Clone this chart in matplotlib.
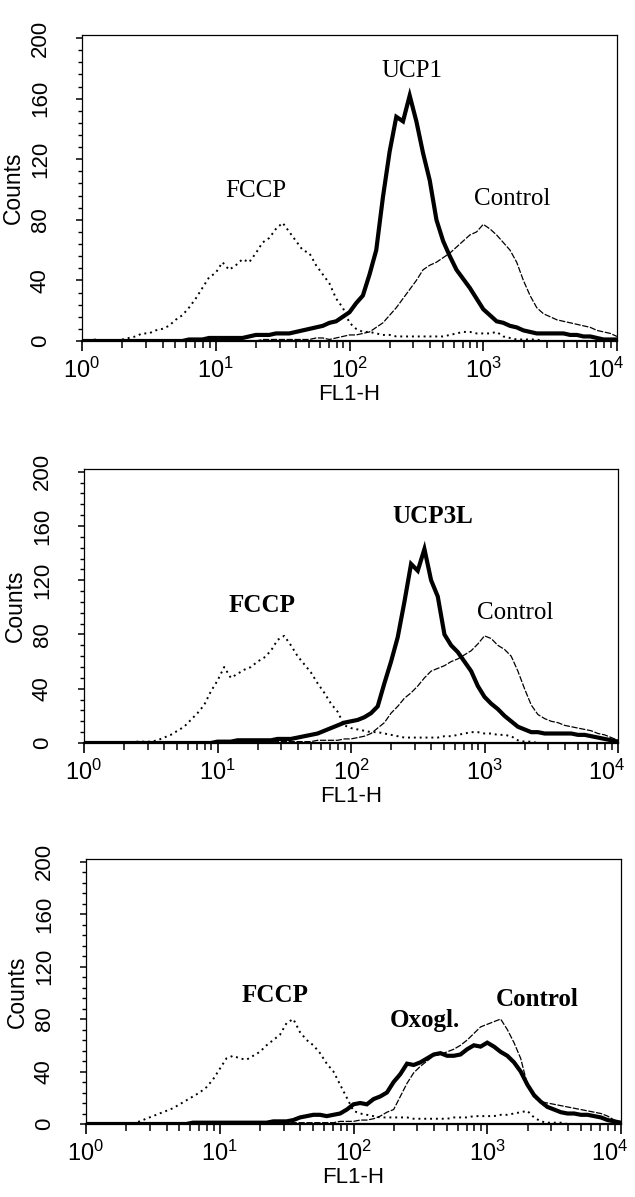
import numpy as np
import matplotlib
matplotlib.use('Agg')
import matplotlib.pyplot as plt
from matplotlib.ticker import LogLocator, LogFormatterSciNotation, MultipleLocator, NullFormatter
from matplotlib.transforms import ScaledTranslation

# -- data: counts per channel, channels at log10(FL1-H) = 0.00, 0.05, ... 4.00 -- #

log_fl1 = np.linspace(0, 4, 81)

# panel 1: UCP1
fccp_1 = [0, 0, 1, 0, 1, 0, 1, 2, 3, 5,
          5, 7, 8, 10, 14, 17, 22, 28, 35, 42,
          45, 52, 47, 50, 54, 52, 58, 65, 68, 74,
          78, 72, 66, 60, 58, 50, 44, 38, 28, 22,
          12, 8, 6, 6, 5, 4, 4, 3, 3, 3,
          3, 3, 3, 3, 3, 4, 5, 6, 6, 5,
          5, 5, 6, 3, 2, 1, 1, 1, 1, 0,
          0, 0, 0, 0, 0, 0, 0, 0, 0, 0,
          0]
control_1 = [0, 0, 0, 0, 0, 0, 0, 0, 0, 0,
             0, 0, 0, 0, 0, 0, 0, 0, 0, 0,
             0, 0, 0, 0, 0, 0, 0, 1, 1, 1,
             1, 1, 1, 1, 1, 2, 2, 1, 2, 3,
             4, 4, 5, 6, 9, 12, 17, 22, 28, 34,
             40, 47, 50, 52, 55, 58, 62, 66, 70, 72,
             77, 74, 70, 65, 60, 52, 40, 30, 22, 18,
             16, 14, 13, 12, 11, 10, 9, 7, 6, 5,
             3]
ucp1_1 = [0, 0, 0, 0, 0, 0, 0, 0, 0, 0,
          0, 0, 0, 0, 0, 0, 1, 1, 1, 2,
          2, 2, 2, 2, 2, 3, 4, 4, 4, 5,
          5, 5, 6, 7, 8, 9, 10, 12, 13, 16,
          19, 25, 30, 44, 60, 95, 125, 148, 145, 162,
          145, 124, 106, 80, 66, 56, 47, 41, 35, 28,
          21, 17, 13, 12, 10, 9, 7, 6, 5, 5,
          5, 5, 5, 4, 4, 3, 3, 2, 1, 1,
          1]

# panel 2: UCP3L
fccp_2 = [0, 0, 0, 0, 0, 0, 0, 0, 1, 1,
          1, 2, 4, 6, 9, 12, 17, 22, 28, 38,
          46, 56, 48, 51, 54, 56, 60, 63, 68, 76,
          79, 72, 64, 58, 52, 44, 37, 29, 23, 13,
          11, 10, 9, 8, 8, 7, 6, 5, 4, 4,
          4, 4, 4, 4, 5, 5, 6, 7, 8, 8,
          7, 7, 6, 6, 5, 2, 1, 1, 0, 0,
          0, 0, 0, 0, 0, 0, 0, 0, 0, 0,
          0]
control_2 = [0, 0, 0, 0, 0, 0, 0, 0, 0, 0,
             0, 0, 0, 0, 0, 0, 0, 0, 0, 0,
             0, 0, 0, 0, 0, 1, 1, 1, 1, 1,
             1, 1, 1, 1, 1, 2, 2, 2, 2, 3,
             3, 4, 5, 7, 11, 15, 22, 27, 33, 37,
             42, 48, 53, 55, 57, 60, 62, 65, 68, 73,
             79, 77, 72, 69, 64, 53, 40, 28, 21, 18,
             16, 15, 13, 12, 11, 10, 9, 7, 6, 4,
             2]
ucp3l_2 = [0, 0, 0, 0, 0, 0, 0, 0, 0, 0,
           0, 0, 0, 0, 0, 0, 0, 0, 0, 0,
           1, 1, 1, 2, 2, 2, 2, 2, 2, 3,
           3, 3, 4, 5, 6, 7, 9, 11, 13, 15,
           16, 17, 19, 22, 27, 44, 60, 78, 104, 132,
           127, 143, 120, 108, 80, 72, 67, 60, 53, 42,
           34, 29, 25, 20, 16, 12, 10, 8, 8, 7,
           7, 7, 7, 7, 6, 6, 5, 4, 3, 2,
           1]

# panel 3: Oxoglutarate
fccp_3 = [0, 0, 0, 0, 0, 0, 0, 0, 2, 4,
          6, 8, 10, 12, 15, 18, 21, 24, 28, 34,
          42, 50, 52, 50, 49, 52, 55, 60, 64, 68,
          77, 80, 70, 64, 60, 54, 46, 40, 30, 20,
          10, 8, 7, 6, 5, 5, 5, 5, 5, 4,
          4, 4, 4, 4, 4, 5, 5, 5, 6, 6,
          6, 6, 7, 7, 8, 9, 10, 5, 2, 1,
          1, 1, 0, 0, 0, 0, 0, 0, 0, 0,
          0]
control_3 = [0, 0, 0, 0, 0, 0, 0, 0, 0, 0,
             0, 0, 0, 0, 0, 0, 0, 0, 0, 0,
             0, 0, 0, 0, 0, 0, 0, 0, 0, 1,
             1, 1, 1, 1, 1, 1, 1, 1, 2, 2,
             2, 3, 3, 4, 6, 9, 11, 21, 31, 39,
             44, 48, 52, 53, 55, 57, 60, 64, 69, 74,
             76, 78, 80, 72, 62, 50, 30, 20, 17, 16,
             15, 14, 13, 12, 11, 10, 9, 8, 6, 3,
             1]
oxogl_3 = [0, 0, 0, 0, 0, 0, 0, 0, 0, 0,
           0, 0, 0, 0, 0, 0, 1, 1, 1, 1,
           1, 1, 1, 1, 1, 1, 1, 1, 2, 2,
           2, 3, 5, 6, 7, 7, 6, 7, 8, 11,
           15, 16, 15, 19, 21, 24, 32, 38, 46, 45,
           47, 50, 53, 54, 52, 52, 53, 57, 60, 59,
           62, 59, 55, 52, 47, 40, 30, 22, 17, 13,
           11, 9, 8, 8, 7, 7, 6, 5, 3, 2,
           1]

# ------------------------------ #

W, H = 635, 1197
plt.rcParams['font.family'] = ['Liberation Sans', 'DejaVu Sans']
fig = plt.figure(figsize=(W / 100, H / 100), dpi=100)

fl1 = 10 ** log_fl1

# axes boxes in pixels: left, right, top, bottom
boxes = [(82, 617, 35, 341), (84, 618, 469, 743), (86, 621, 859, 1124)]
serif = ['Liberation Serif', 'DejaVu Serif']


def make_axes(box):
    l, r, t, b = box
    ax = fig.add_axes([l / W, (H - b) / H, (r - l) / W, (b - t) / H])
    ax.set_xscale('log')
    ax.set_xlim(1, 1e4)
    ax.set_ylim(0, 202)
    ax.xaxis.set_major_locator(LogLocator(base=10, numticks=10))
    ax.xaxis.set_minor_locator(LogLocator(base=10, subs=np.arange(2, 10), numticks=10))
    ax.xaxis.set_major_formatter(LogFormatterSciNotation())
    ax.xaxis.set_minor_formatter(NullFormatter())
    ax.yaxis.set_major_locator(MultipleLocator(40))
    ax.yaxis.set_minor_locator(MultipleLocator(8))
    ax.tick_params(axis='x', which='major', direction='out', length=7, width=1.2,
                   labelsize=17, pad=5, top=False)
    ax.tick_params(axis='x', which='minor', direction='out', length=5, width=1.1, top=False)
    ax.tick_params(axis='y', which='major', direction='out', length=4.5, width=1.1,
                   labelsize=16, pad=18, labelrotation=90, right=False)
    ax.tick_params(axis='y', which='minor', direction='out', length=3, width=1.0, right=False)
    for lab in ax.get_yticklabels():
        lab.set_va('center')
    for s in ax.spines.values():
        s.set_linewidth(0.9)
    ax.spines['bottom'].set_linewidth(1.6)
    ax.set_xlabel('FL1-H', fontsize=16, labelpad=1)
    ax.set_ylabel('Counts', fontsize=16.5)
    # "Counts" sits just left of the tick numbers
    ax.yaxis.set_label_coords(-57 / (r - l), 0.5)
    return ax


def draw_curves(ax, fccp, control, treated):
    ax.plot(fl1, fccp, color='black', lw=1.4, linestyle=(0, (1, 2.0)))
    ax.plot(fl1, control, color='black', lw=0.9, linestyle=(0, (5, 1.3)))
    ax.plot(fl1, treated, color='black', lw=3.0, solid_joinstyle='miter')


# panel 1
ax1 = make_axes(boxes[0])
draw_curves(ax1, fccp_1, control_1, ucp1_1)
ax1.text(10 ** 2.47, 178, 'UCP1', family=serif, fontsize=18, ha='center', va='center')
ax1.text(10 ** 1.30, 99, 'FCCP', family=serif, fontsize=18, ha='center', va='center')
ax1.text(10 ** 3.22, 94, 'Control', family=serif, fontsize=18, ha='center', va='center')

# panel 2
ax2 = make_axes(boxes[1])
draw_curves(ax2, fccp_2, control_2, ucp3l_2)
ax2.text(10 ** 2.61, 167, 'UCP3L', family=serif, fontsize=18, fontweight='bold',
         ha='center', va='center')
ax2.text(10 ** 1.33, 101, 'FCCP', family=serif, fontsize=18, fontweight='bold',
         ha='center', va='center')
ax2.text(10 ** 3.23, 96, 'Control', family=serif, fontsize=18, ha='center', va='center')

# panel 3
ax3 = make_axes(boxes[2])
draw_curves(ax3, fccp_3, control_3, oxogl_3)
ax3.text(10 ** 1.41, 98, 'FCCP', family=serif, fontsize=18, fontweight='bold',
         ha='center', va='center')
ax3.text(10 ** 2.53, 79, 'Oxogl.', family=serif, fontsize=18, fontweight='bold',
         ha='center', va='center')
ax3.text(10 ** 3.37, 95, 'Control', family=serif, fontsize=18, fontweight='bold',
         ha='center', va='center')

# keep the 10^4 label inside the page
fig.canvas.draw()
for ax in (ax1, ax2, ax3):
    for tk in ax.xaxis.get_major_ticks():
        if '{4}' in tk.label1.get_text():
            tk.label1.set_transform(tk.label1.get_transform() +
                                    ScaledTranslation(-8 / 72, 0, fig.dpi_scale_trans))

fig.savefig('out.png', dpi=100)
